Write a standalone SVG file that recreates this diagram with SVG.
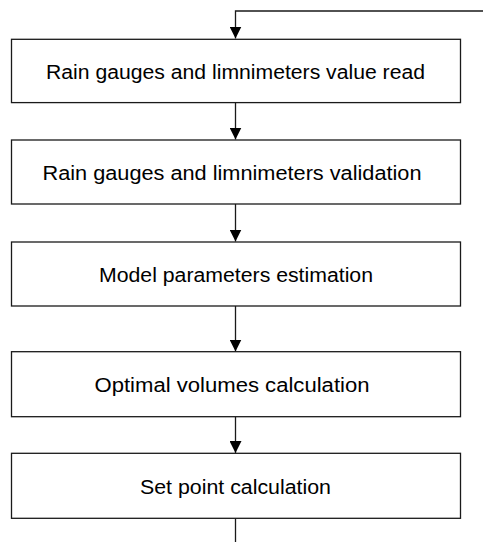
<svg xmlns="http://www.w3.org/2000/svg" width="483" height="542" viewBox="0 0 483 542">
<style>
.box{fill:#fff;stroke:#1a1a1a;stroke-width:1.3}
.lbl{font-family:"Liberation Sans",Arial,sans-serif;font-size:20px;fill:#000;text-anchor:middle}
.con{fill:none;stroke:#1a1a1a;stroke-width:1.3}
</style>
<defs>
<marker id="ah" markerUnits="userSpaceOnUse" markerWidth="13" markerHeight="12" refX="12" refY="6" orient="auto">
<path d="M0,0 L12,6 L0,12 Z" fill="#000"/>
</marker>
</defs>
<rect width="483" height="542" fill="#fff"/>
<g id="connectors">
<path class="con" d="M483,11 H235.5 V38.5" marker-end="url(#ah)"/>
<path class="con" d="M235.5,102.5 V139.5" marker-end="url(#ah)"/>
<path class="con" d="M235.5,204 V241.5" marker-end="url(#ah)"/>
<path class="con" d="M235.5,306 V351.5" marker-end="url(#ah)"/>
<path class="con" d="M235.5,417 V453" marker-end="url(#ah)"/>
<path class="con" d="M235.5,518.3 V542"/>
</g>
<g id="n1"><rect class="box" x="11.5" y="39.3" width="449" height="63.3"/><text class="lbl" x="235.5" y="79" textLength="379" lengthAdjust="spacingAndGlyphs">Rain gauges and limnimeters value read</text></g>
<g id="n2"><rect class="box" x="11.5" y="140" width="449" height="64"/><text class="lbl" x="232" y="180" textLength="379" lengthAdjust="spacingAndGlyphs">Rain gauges and limnimeters validation</text></g>
<g id="n3"><rect class="box" x="11.5" y="242" width="449" height="64"/><text class="lbl" x="236" y="282" textLength="274" lengthAdjust="spacingAndGlyphs">Model parameters estimation</text></g>
<g id="n4"><rect class="box" x="11.5" y="351.7" width="449" height="65"/><text class="lbl" x="232" y="392.3" textLength="275" lengthAdjust="spacingAndGlyphs">Optimal volumes calculation</text></g>
<g id="n5"><rect class="box" x="11.5" y="453.3" width="449" height="65"/><text class="lbl" x="235.5" y="494" textLength="191" lengthAdjust="spacingAndGlyphs">Set point calculation</text></g>
</svg>
